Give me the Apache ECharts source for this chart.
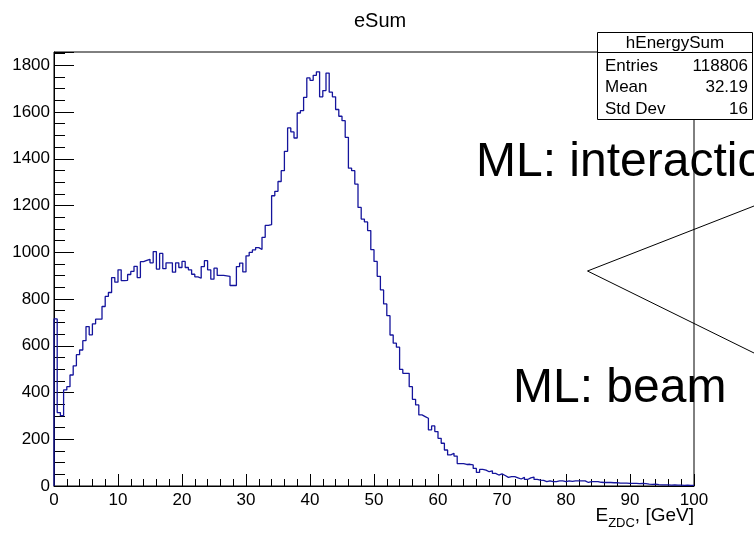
<!DOCTYPE html>
<html>
<head>
  <meta charset="UTF-8">
  <title>eSum</title>
  <script src="https://cdn.jsdelivr.net/npm/echarts@6/dist/echarts.min.js"></script>
</head>
<body style="margin: 0; background: #fff;">
  <div id="main" style="width: 754px; height: 533px;"></div>
  <script type="text/javascript">
    // histogram hEnergySum: 200 bins of 0.5 GeV from 0 to 100
    var binWidth = 0.5;
    var counts = [
      715, 314, 301, 411, 425, 475, 514, 562, 582, 622,
      682, 647, 694, 714, 714, 768, 811, 828, 892, 872,
      925, 879, 880, 905, 918, 940, 892, 960, 965, 970,
      955, 1003, 928, 995, 930, 955, 955, 915, 955, 935,
      961, 935, 925, 906, 895, 889, 939, 964, 925, 885,
      932, 901, 901, 899, 897, 858, 858, 939, 954, 916,
      985, 1000, 1010, 1020, 1012, 1064, 1115, 1118, 1242, 1261,
      1303, 1349, 1432, 1532, 1515, 1489, 1596, 1606, 1663, 1746,
      1736, 1757, 1772, 1665, 1692, 1767, 1685, 1665, 1611, 1582,
      1563, 1492, 1360, 1349, 1292, 1192, 1142, 1130, 1093, 1011,
      961, 897, 839, 779, 729, 646, 611, 594, 499, 482,
      482, 425, 371, 347, 304, 297, 290, 240, 257, 233,
      204, 183, 154, 133, 140, 128, 96, 96, 92, 93,
      90, 75, 58, 71, 68, 61, 65, 54, 47, 52,
      45, 37, 40, 40, 35, 30, 37, 28, 35, 38,
      28, 25, 24, 19, 22, 19, 19, 22, 22, 19,
      22, 20, 22, 22, 22, 22, 15, 19, 19, 19,
      16, 15, 15, 15, 14, 14, 12, 12, 12, 11,
      11, 11, 10, 11, 10, 8, 7, 8, 6, 5,
      5, 5, 4, 5, 4, 4, 3, 4, 3, 3
    ];
    var xTicks = [0, 10, 20, 30, 40, 50, 60, 70, 80, 90, 100];
    var yTicks = [0, 200, 400, 600, 800, 1000, 1200, 1400, 1600, 1800];
    var yMax = 1857;
    var statsLabels = ['Entries', 'Mean', 'Std Dev'];
    var statsValues = ['118806', '32.19', '16'];

    // step outline points: left edge of each bin, closed to the baseline
    var outline = [[0, 0]];
    for (var i = 0; i < counts.length; i++) {
      outline.push([i * binWidth, counts[i]]);
    }
    outline.push([counts.length * binWidth, 0]);

    var font = 'Liberation Sans, Arial, Helvetica, sans-serif';
    var black = '#000';

    var chart = echarts.init(document.getElementById('main'), null, { renderer: 'canvas' });

    var graphics = [
      // stats box
      { type: 'rect', z: 100, shape: { x: 597.5, y: 32.5, width: 155, height: 87 },
        style: { fill: '#fff', stroke: black, lineWidth: 1 } },
      { type: 'line', z: 101, shape: { x1: 597.5, y1: 52.5, x2: 752.5, y2: 52.5 },
        style: { stroke: black, lineWidth: 1 } },
      { type: 'text', z: 101, x: 675, y: 43,
        style: { text: 'hEnergySum', font: '17px ' + font, fill: black, align: 'center', verticalAlign: 'middle' } }
    ];
    for (var j = 0; j < statsLabels.length; j++) {
      var rowY = 66 + j * 21.5;
      graphics.push({ type: 'text', z: 101, x: 605, y: rowY,
        style: { text: statsLabels[j], font: '17px ' + font, fill: black, align: 'left', verticalAlign: 'middle' } });
      graphics.push({ type: 'text', z: 101, x: 748, y: rowY,
        style: { text: statsValues[j], font: '17px ' + font, fill: black, align: 'right', verticalAlign: 'middle' } });
    }
    // x axis title with subscript
    graphics.push({ type: 'text', z: 90, x: 694, y: 506,
      style: {
        text: '{a|E}{b|ZDC}{a|, [GeV]}', align: 'right', verticalAlign: 'top',
        rich: {
          a: { font: '19px ' + font, fill: black, lineHeight: 24, verticalAlign: 'top' },
          b: { font: '13px ' + font, fill: black, lineHeight: 6, verticalAlign: 'bottom' }
        }
      } });
    // slide annotations
    graphics.push({ type: 'text', z: 90, x: 476, y: 162.5,
      style: { text: 'ML: interaction', font: '48px ' + font, fill: black, align: 'left', verticalAlign: 'middle' } });
    graphics.push({ type: 'text', z: 90, x: 513, y: 388.5,
      style: { text: 'ML: beam', font: '48px ' + font, fill: black, align: 'left', verticalAlign: 'middle' } });
    graphics.push({ type: 'polyline', z: 90, shape: { points: [[754, 206], [587.5, 271], [754, 353]] },
      style: { stroke: black, lineWidth: 1, fill: null } });

    var option = {
      animation: false,
      backgroundColor: '#fff',
      title: {
        text: 'eSum',
        left: 349,
        top: 6,
        textStyle: { fontFamily: font, fontSize: 20, fontWeight: 'normal', color: black }
      },
      grid: {
        left: 54, right: 60, top: 52, bottom: 47,
        outerBoundsMode: 'none',
        containLabel: false,
        show: true, borderColor: black, borderWidth: 1, backgroundColor: 'transparent'
      },
      xAxis: {
        type: 'value',
        min: xTicks[0],
        max: xTicks[xTicks.length - 1],
        interval: xTicks[1] - xTicks[0],
        axisLine: { show: true, lineStyle: { color: black, width: 1 } },
        axisTick: { show: true, inside: true, length: 12, lineStyle: { color: black, width: 1 } },
        minorTick: { show: true, splitNumber: 5, length: 7, lineStyle: { color: black, width: 1 } },
        axisLabel: { fontFamily: font, fontSize: 17, color: black, margin: 6 },
        splitLine: { show: false }
      },
      yAxis: [
        {
          type: 'value',
          min: yTicks[0],
          max: yMax,
          interval: yTicks[1] - yTicks[0],
          axisLine: { show: true, lineStyle: { color: black, width: 1 } },
          axisTick: { show: true, inside: true, length: 20, lineStyle: { color: black, width: 1 } },
          axisLabel: {
            fontFamily: font, fontSize: 17, color: black, margin: 4,
            formatter: function (v) { return yTicks.indexOf(v) >= 0 ? String(v) : ''; }
          },
          splitLine: { show: false }
        },
        {
          // minor ticks every 50
          type: 'value',
          position: 'left',
          min: 0,
          max: yMax,
          interval: 50,
          axisLine: { show: false },
          axisTick: { show: true, inside: true, length: 11, lineStyle: { color: black, width: 1 } },
          axisLabel: { show: false },
          splitLine: { show: false }
        }
      ],
      series: [
        {
          name: 'hEnergySum',
          type: 'line',
          step: 'end',
          data: outline,
          showSymbol: false,
          symbol: 'none',
          lineStyle: { color: '#14149c', width: 1.3 },
          z: 3
        }
      ],
      graphic: graphics
    };

    chart.setOption(option);
  </script>
</body>
</html>
